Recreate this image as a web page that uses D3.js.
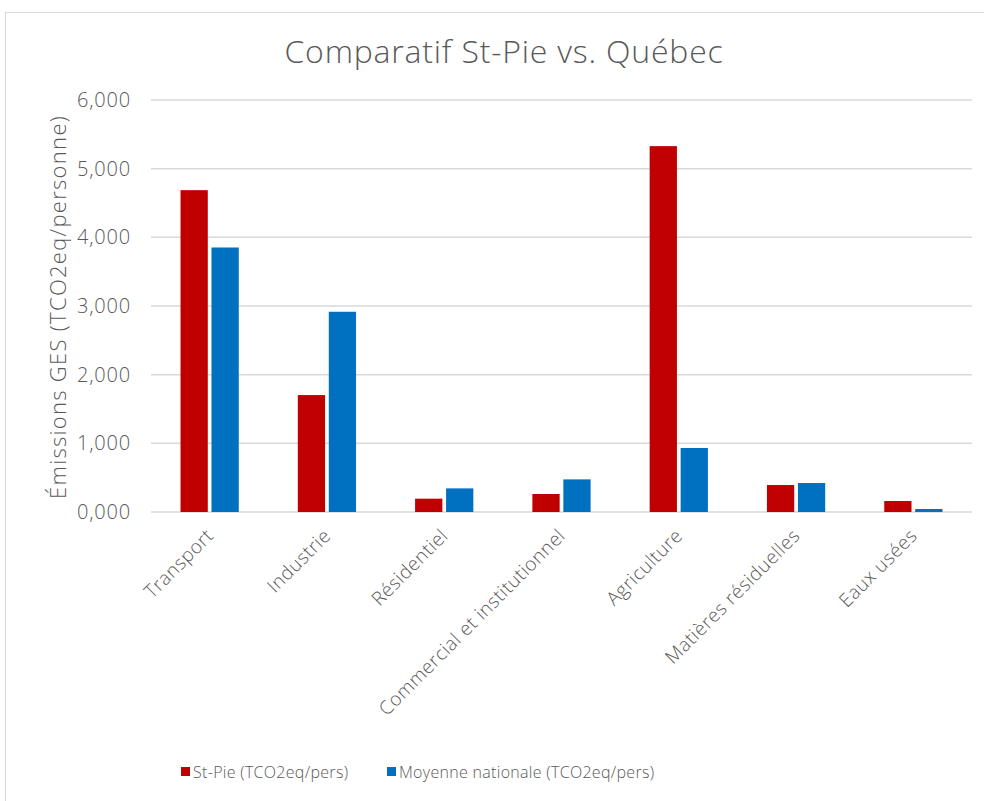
<!DOCTYPE html>
<html>
<head>
<meta charset="utf-8">
<script src="https://cdn.jsdelivr.net/npm/d3@7"></script>
<style>
	body { margin: 0; background: #fff; }
	svg text { font-family: "Open Sans", Lato, sans-serif; font-weight: 300; fill: #595959; }
</style>
</head>
<body>
<svg id="chart"></svg>
<script>
const categories = ['Transport', 'Industrie', 'Résidentiel', 'Commercial et institutionnel', 'Agriculture', 'Matières résiduelles', 'Eaux usées'];
const stPie = [4.687, 1.703, 0.194, 0.262, 5.328, 0.393, 0.160];
const moyenne = [3.852, 2.916, 0.344, 0.475, 0.932, 0.422, 0.044];
const seriesNames = ['St-Pie (TCO2eq/pers)', 'Moyenne nationale (TCO2eq/pers)'];
const seriesColors = ['#C00000', '#0070C0'];
const yTicks = [0, 1, 2, 3, 4, 5, 6];

const width = 984, height = 801;
const margin = { top: 100, right: 12, bottom: 289, left: 151 };

const svg = d3.select('svg#chart')
	.attr('width', width)
	.attr('height', height);

// chart frame
svg.append('rect')
	.attr('x', 5.5)
	.attr('y', 12.5)
	.attr('width', 1000)
	.attr('height', 800)
	.attr('fill', 'none')
	.attr('stroke', '#d9d9d9');

const x0 = d3.scaleBand()
	.domain(categories)
	.range([margin.left, width - margin.right])
	.paddingInner(0.44)
	.paddingOuter(0.22);

const x1 = d3.scaleBand()
	.domain(d3.range(seriesNames.length))
	.range([0, x0.bandwidth()])
	.padding(0.12);

const y = d3.scaleLinear()
	.domain([0, 6])
	.range([height - margin.bottom, margin.top]);

// gridlines
svg.append('g')
	.selectAll('line')
	.data(yTicks)
	.join('line')
	.attr('x1', margin.left)
	.attr('x2', width - margin.right)
	.attr('y1', d => y(d))
	.attr('y2', d => y(d))
	.attr('stroke', '#d9d9d9')
	.attr('stroke-width', 1.5);

// y tick labels
svg.append('g')
	.selectAll('text')
	.data(yTicks)
	.join('text')
	.attr('x', 131)
	.attr('y', d => y(d))
	.attr('dy', '0.35em')
	.attr('text-anchor', 'end')
	.attr('font-size', 20)
	.attr('letter-spacing', 0.8)
	.text(d => d3.format('.3f')(d).replace('.', ','));

// bars
const rows = categories.map((c, i) => ({ cat: c, vals: [stPie[i], moyenne[i]] }));

svg.append('g')
	.selectAll('g')
	.data(rows)
	.join('g')
	.attr('transform', d => `translate(${x0(d.cat)},0)`)
	.selectAll('rect')
	.data(d => d.vals.map((v, k) => ({ k, v })))
	.join('rect')
	.attr('x', d => x1(d.k))
	.attr('width', x1.bandwidth())
	.attr('y', d => y(d.v))
	.attr('height', d => y(0) - y(d.v))
	.attr('fill', d => seriesColors[d.k]);

// x labels
svg.append('g')
	.selectAll('text')
	.data(categories)
	.join('text')
	.attr('transform', d => `translate(${x0(d) + x0.bandwidth() / 2 + 5},${y(0) + 25}) rotate(-45)`)
	.attr('text-anchor', 'end')
	.attr('font-size', 19)
	.attr('letter-spacing', 0.5)
	.text(d => d);

// y axis title
svg.append('text')
	.attr('transform', `translate(66,307) rotate(-90)`)
	.attr('text-anchor', 'middle')
	.attr('font-size', 22)
	.attr('letter-spacing', 1.3)
	.text('Émissions GES (TCO2eq/personne)');

// title
svg.append('text')
	.attr('x', 504)
	.attr('y', 63)
	.attr('text-anchor', 'middle')
	.attr('font-size', 32)
	.attr('letter-spacing', 0.8)
	.text('Comparatif St-Pie vs. Québec');

// legend
const legendX = [181, 387];
const legend = svg.append('g')
	.selectAll('g')
	.data(seriesNames)
	.join('g')
	.attr('transform', (d, i) => `translate(${legendX[i]},772)`);

legend.append('rect')
	.attr('x', 0)
	.attr('y', -5)
	.attr('width', 9)
	.attr('height', 9)
	.attr('fill', (d, i) => seriesColors[i]);

legend.append('text')
	.attr('x', 12)
	.attr('y', 0)
	.attr('dy', '0.35em')
	.attr('font-size', 16)
	.attr('letter-spacing', 0.3)
	.text(d => d);
</script>
</body>
</html>
